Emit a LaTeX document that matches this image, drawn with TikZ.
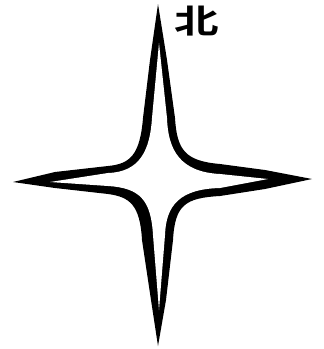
\documentclass[tikz,border=0pt]{standalone}
\usepackage{fontspec}
\newfontfamily\cjk{Noto Sans CJK SC Bold}
\begin{document}
\begin{tikzpicture}[x=1pt,y=-1pt]
\useasboundingbox (0,0) rectangle (324,349);
% outer star (black)
\fill[black] (158,4) -- (150,60) -- (143,118) .. controls (140,155) and (130,164) .. (108,166)
  -- (55,172) -- (13,182) -- (55,188) -- (108,194)
  .. controls (130,197) and (140,205) .. (142,240) -- (151,300) -- (158,346) -- (166,300) -- (173,240)
  .. controls (175,205) and (185,198) .. (220,196) -- (265,189) -- (312,179) -- (265,170) -- (220,164)
  .. controls (185,161) and (177,150) .. (175,118) -- (167,60) -- cycle;
% inner star (white)
\fill[white] (159,43) -- (152,118) .. controls (150,150) and (140,172) .. (108,173) -- (50,182)
  -- (108,186) .. controls (140,188) and (151,200) .. (153,235) -- (159,310) -- (165,235)
  .. controls (166,205) and (180,189) .. (220,188) -- (268,179) -- (220,174)
  .. controls (180,172) and (168,150) .. (167,118) -- cycle;
\node[inner sep=0pt, xscale=1.35] (bei) at (197,21) {\fontsize{33}{33}\selectfont\cjk 北};
\end{tikzpicture}
\end{document}
